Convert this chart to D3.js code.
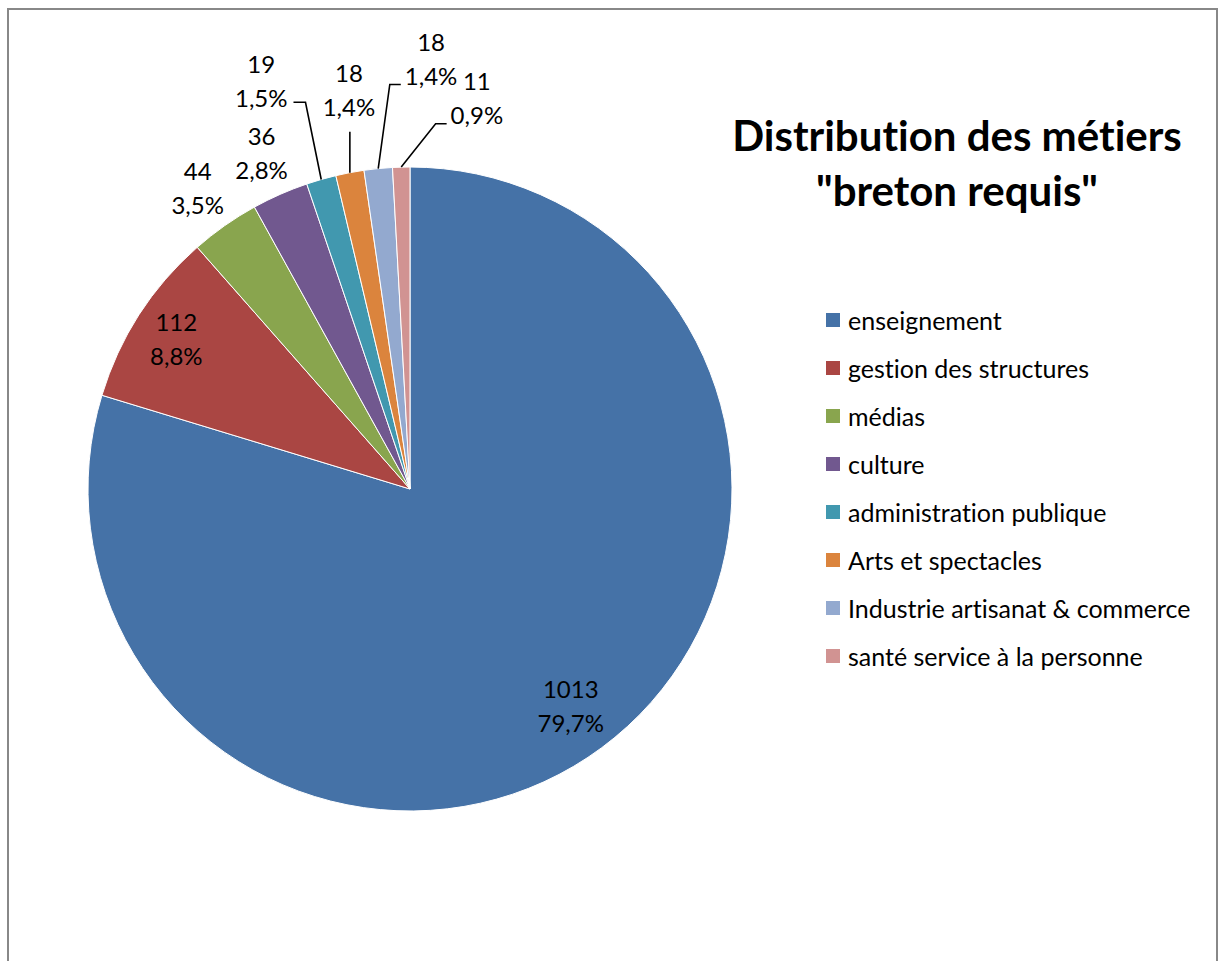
<!DOCTYPE html>
<html lang="fr">
<head>
<meta charset="utf-8">
<title>Distribution des métiers</title>
<script src="https://cdn.jsdelivr.net/npm/d3@7"></script>
<style>
body { margin: 0; background: #fff; }
text { font-family: Lato, "Open Sans", sans-serif; fill: #000; font-variant-ligatures: none; }
.lbl { font-size: 24px; }
.legend text { font-size: 25px; }
.title { font-size: 42px; font-weight: bold; }
.leader { stroke: #000; stroke-width: 1.6px; fill: none; }
</style>
</head>
<body>
<script>
// data
var categories = ["enseignement", "gestion des structures", "médias", "culture",
  "administration publique", "Arts et spectacles", "Industrie artisanat & commerce",
  "santé service à la personne"];
var values = [1013, 112, 44, 36, 19, 18, 18, 11];
var colors = ["#4572A7", "#AA4643", "#89A54E", "#71588F", "#4198AF", "#DB843D", "#93A9CF", "#D19392"];
var titleLines = ["Distribution des métiers", "\"breton requis\""];

// label placement (angle in degrees from top, distance from centre; null = slice mid angle)
var labelAngle = [null, null, null, null, 340, 351.3, 2.8, 9.7];
var labelDist = [270, 278, 369, 368, 435, 404, 431, 397];
var leaderSide = [null, null, null, null, "left", "below", "right", "right"];

var w = 1219, h = 961;
var cx = 410, cy = 489, r = 322;

var svg = d3.select("body").append("svg")
  .attr("width", w)
  .attr("height", h);

svg.append("rect")
  .attr("x", 8).attr("y", 9)
  .attr("width", 1209).attr("height", 1000)
  .attr("fill", "#fff")
  .attr("stroke", "#888")
  .attr("stroke-width", 2);

var total = d3.sum(values);
var pie = d3.pie().sort(null).value(function(d){ return d; });
var arcs = pie(values);
var arc = d3.arc().innerRadius(0).outerRadius(r);

var g = svg.append("g").attr("transform", "translate(" + cx + "," + cy + ")");

g.selectAll("path.slice")
  .data(arcs)
  .enter().append("path")
  .attr("class", "slice")
  .attr("d", arc)
  .attr("fill", function(d, i){ return colors[i]; })
  .attr("stroke", "#fff")
  .attr("stroke-width", 1);

var pct = function(v){ return d3.format(".1f")(v / total * 100).replace(".", ",") + "%"; };
var rad = Math.PI / 180;

arcs.forEach(function(d, i){
  var mid = (d.startAngle + d.endAngle) / 2;
  var a = labelAngle[i] == null ? mid : labelAngle[i] * rad;
  var lx = labelDist[i] * Math.sin(a);
  var ly = -labelDist[i] * Math.cos(a);
  var y1 = ly - 17, y2 = ly + 17;

  var t1 = g.append("text").attr("class", "lbl")
    .attr("x", lx).attr("y", y1)
    .attr("text-anchor", "middle").attr("dominant-baseline", "central")
    .text(values[i]);
  var t2 = g.append("text").attr("class", "lbl")
    .attr("x", lx).attr("y", y2)
    .attr("text-anchor", "middle").attr("dominant-baseline", "central")
    .text(pct(values[i]));

  if (leaderSide[i]) {
    var half = Math.max(t1.node().getComputedTextLength(), t2.node().getComputedTextLength()) / 2;
    var px = r * Math.sin(mid), py = -r * Math.cos(mid);
    var pts;
    if (leaderSide[i] == "left") {
      pts = [[lx + half + 6, y2 + 5], [lx + half + 18, y2 + 5], [px, py]];
    } else if (leaderSide[i] == "right") {
      pts = [[lx - half - 4, y2 + 9], [lx - half - 15, y2 + 9], [px, py]];
    } else {
      pts = [[px, y2 + 25], [px, py]];
    }
    g.append("path").attr("class", "leader").attr("d", d3.line()(pts));
  }
});

// title
var title = svg.append("text").attr("class", "title")
  .attr("text-anchor", "middle");
titleLines.forEach(function(s, i){
  title.append("tspan").attr("x", 957).attr("y", 151 + i * 55).text(s);
});

// legend
var legend = svg.append("g").attr("class", "legend")
  .attr("transform", "translate(826,320)");
var item = legend.selectAll("g")
  .data(categories)
  .enter().append("g")
  .attr("transform", function(d, i){ return "translate(0," + (i * 48) + ")"; });
item.append("rect")
  .attr("x", 0).attr("y", -7)
  .attr("width", 14).attr("height", 14)
  .attr("fill", function(d, i){ return colors[i]; });
item.append("text")
  .attr("x", 22).attr("y", 0)
  .attr("dominant-baseline", "central")
  .text(function(d){ return d; });
</script>
</body>
</html>
